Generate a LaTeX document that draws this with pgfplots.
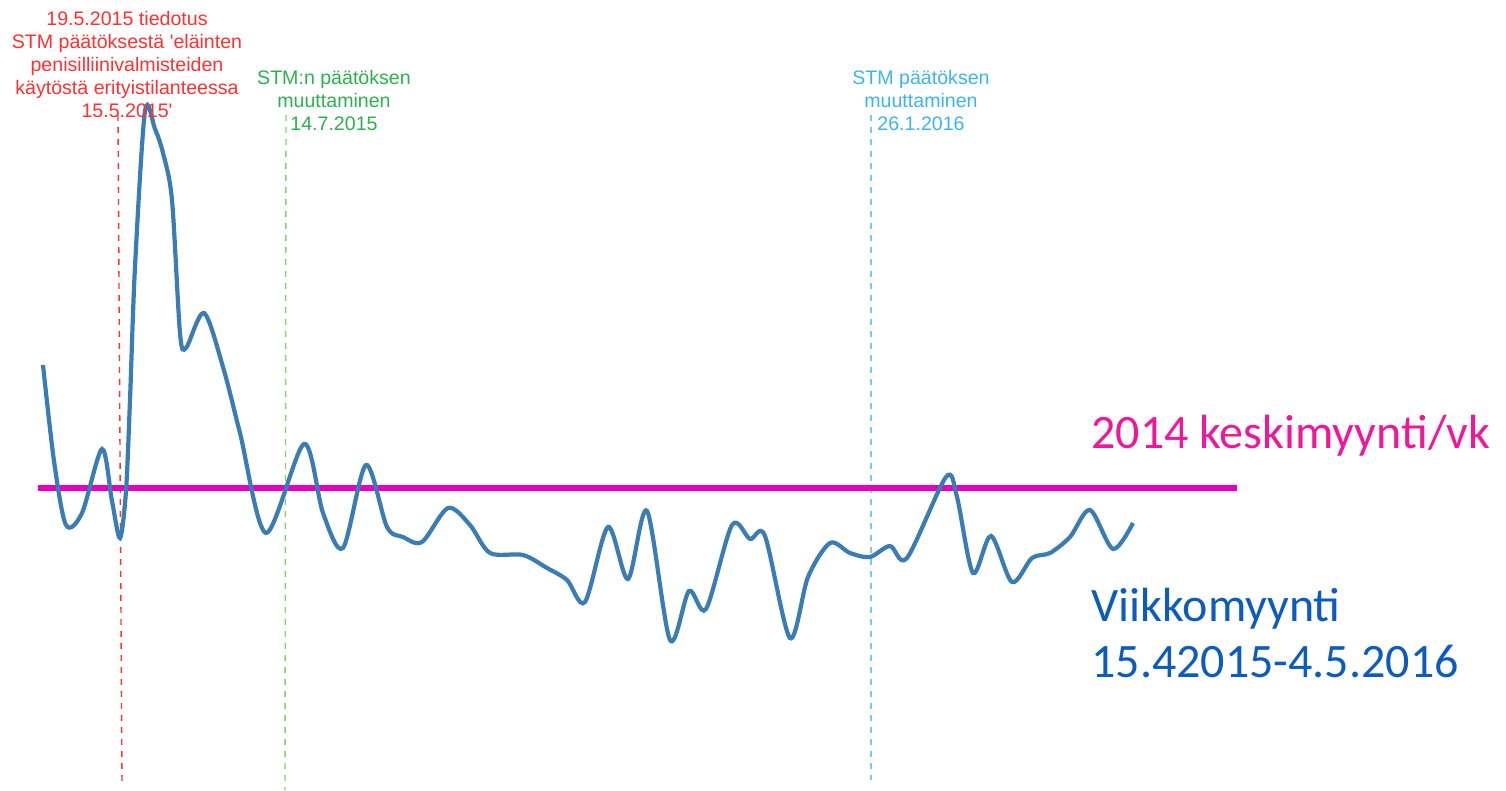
\documentclass[border=0pt]{standalone}
\usepackage{pgfplots}
\pgfplotsset{compat=1.18}
\usepackage{fontspec}
\setmainfont{Liberation Sans}
\newfontfamily\calibri{Carlito}
\definecolor{linebl}{HTML}{3A7DB4}
\definecolor{mag}{HTML}{E600C0}
\definecolor{pinkt}{HTML}{F0189A}
\definecolor{vblue}{HTML}{0B5CBE}
\definecolor{rtext}{HTML}{FF3030}
\definecolor{gtext}{HTML}{2DB04E}
\definecolor{btext}{HTML}{3CB4EE}
\begin{document}
\begin{tikzpicture}
\begin{axis}[
  width=753pt, height=395.5pt, scale only axis,
  xmin=0, xmax=1506, ymin=0, ymax=791,
  hide axis, clip=false,
]
\path (axis cs:0,0) rectangle (axis cs:1506,791);
% vertical event lines
\addplot[draw=red!80, dashed, line width=0.7pt] coordinates {(118,676) (122,6)};
\addplot[draw=green!60!lime!70!black, dashed, line width=0.7pt, opacity=0.6] coordinates {(286,676) (285,1)};
\addplot[draw=btext, dashed, line width=0.7pt, opacity=0.7] coordinates {(871,676) (871,11)};
% 2014 average
\addplot[draw=mag, line width=2.6pt] coordinates {(38,303) (1237,303)};
% weekly sales
\addplot[draw=linebl, line width=2.1pt, smooth, tension=0.5] coordinates {
(43,426) (54,330) (66,266) (82,278) (102,342) (112,290) (120,253) (126,300) (130,391) (135,524)
(145,680) (155,662) (163,638) (172,591) (180,458)
(186,443) (204,478) (223,424) (240,358) (266,258) (304,347) (323,278) (343,243)
(366,326) (387,264) (403,254) (422,249) (448,283) (470,266) (490,238) (523,236)
(547,223) (567,211) (585,189) (608,264) (628,212) (647,280) (670,151) (689,200)
(706,182) (732,266) (750,252) (765,255) (790,153) (808,214) (830,248) (850,238)
(870,234) (890,245) (907,233) (946,314) (957,294) (973,218) (991,255) (1012,209)
(1032,233) (1050,238) (1070,254) (1090,281) (1113,242) (1133,268)
};
\node[anchor=north, align=center, text=rtext, font=\fontsize{9.8}{11.5}\selectfont, inner sep=0pt] at (axis cs:127,780)
  {19.5.2015 tiedotus\\STM päätöksestä \textquotesingle eläinten\\penisilliinivalmisteiden\\käytöstä erityistilanteessa\\15.5.2015\textquotesingle};
\node[anchor=north, align=center, text=gtext, font=\fontsize{9.8}{11.5}\selectfont, inner sep=0pt] at (axis cs:334,721)
  {STM:n päätöksen\\muuttaminen\\14.7.2015};
\node[anchor=north, align=center, text=btext, font=\fontsize{9.8}{11.5}\selectfont, inner sep=0pt] at (axis cs:921,721)
  {STM päätöksen\\muuttaminen\\26.1.2016};
\node[anchor=base west, text=pinkt, font=\calibri\fontsize{24}{30}\selectfont, inner sep=0pt] at (axis cs:1091,342) {2014 keskimyynti/vk};
\node[anchor=base west, text=vblue, font=\calibri\fontsize{24}{30}\selectfont, inner sep=0pt] at (axis cs:1091,169) {Viikkomyynti};
\node[anchor=base west, text=vblue, font=\calibri\fontsize{24}{30}\selectfont, inner sep=0pt] at (axis cs:1091,113) {15.42015-4.5.2016};
\end{axis}
\end{tikzpicture}
\end{document}
